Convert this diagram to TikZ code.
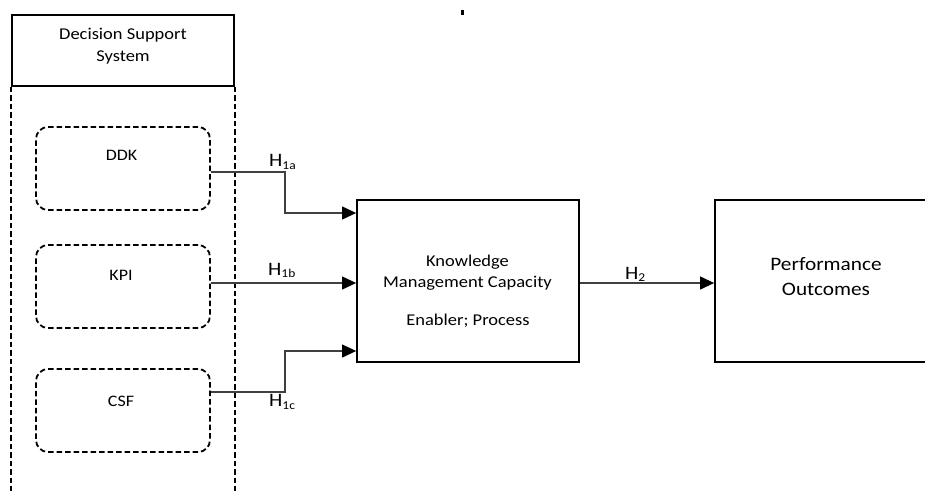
\documentclass[tikz,border=0pt]{standalone}
\usepackage{fontspec}
\setmainfont[FakeStretch=1.12]{Carlito}
\usetikzlibrary{arrows.meta,calc}
\newcommand{\hlab}[1]{H\raisebox{-2.5pt}{\fontsize{12}{12}\selectfont #1}}
\begin{document}
\begin{tikzpicture}[x=1pt,y=-1pt,
  solidbox/.style={draw=black,line width=1.8pt,inner sep=0pt},
  dashbox/.style={draw=black,line width=1.8pt,dash pattern=on 5.5pt off 3pt,rounded corners=12pt,inner sep=0pt,minimum width=174pt,minimum height=83pt},
  dashline/.style={draw=black,line width=1.8pt,dash pattern=on 5.5pt off 3pt},
  conn/.style={draw=black!75,line width=1.1pt,-{Triangle[length=14pt,width=13pt,color=black]}},
  txt/.style={anchor=base,inner sep=0pt,text=black},
  smalltxt/.style={txt,font=\fontsize{16}{18}\selectfont},
  midtxt/.style={txt,font=\fontsize{16.5}{21}\selectfont},
  bigtxt/.style={txt,font=\fontsize{19}{25}\selectfont},
  hlabel/.style={anchor=base west,inner sep=0pt,font=\fontsize{19}{20}\selectfont}
]
\useasboundingbox (0,0) rectangle (925,490);
% Decision support system
\node[solidbox,minimum width=222pt,minimum height=71pt] (dss) at (123,50.5) {};
\node[midtxt] (dss1) at (123,39.5) {Decision Support};
\node[midtxt] (dss2) at (123,61.7) {System};
\coordinate (bottom) at (0,496);
\draw[dashline] (dss.south west) -- (dss.south west |- bottom);
\draw[dashline] (dss.south east) -- (dss.south east |- bottom);
% dashed inner boxes
\node[dashbox] (ddk) at (123,168.5) {};
\node[dashbox] (kpi) at (123,286.5) {};
\node[dashbox] (csf) at (123,410.5) {};
\node[smalltxt] (ddkt) at (121.5,160.7) {DDK};
\node[smalltxt] (kpit) at (121,280.7) {KPI};
\node[smalltxt] (csft) at (121,406) {CSF};
% KMC
\node[solidbox,minimum width=222pt,minimum height=162pt] (kmc) at (468,281) {};
\node[midtxt] (kmc1) at (467.5,266) {Knowledge};
\node[midtxt] (kmc2) at (467.5,287) {Management Capacity};
\node[midtxt] (kmc3) at (468,325) {Enabler; Process};
% Performance
\node[solidbox,minimum width=232pt,minimum height=162pt] (perf) at (831,281) {};
\node[bigtxt] (perf1) at (826,270) {Performance};
\node[bigtxt] (perf2) at (826,295) {Outcomes};
% connectors
\coordinate (ja) at (285,213);
\coordinate (jc) at (285,351);
\draw[conn] ([yshift=-3.5pt]ddk.east) -| (ja) -- ([yshift=68pt]kmc.west);
\draw[conn] ([yshift=3.5pt]kpi.east) -- ([yshift=3.5pt]kpi.east -| kmc.west);
\draw[conn] ([yshift=18.5pt]csf.east) -| (jc) -- ([yshift=-70pt]kmc.west);
\draw[conn] ([yshift=-2pt]kmc.east) -- ([yshift=-2pt]perf.west);
% labels
\node[hlabel] (h1a) at (269,166.7) {\hlab{1a}};
\node[hlabel] (h1b) at (268,275) {\hlab{1b}};
\node[hlabel] (h1c) at (269,406.7) {\hlab{1c}};
\node[hlabel] (h2) at (625,279) {\hlab{2}};
% stray mark
\fill[black] (461,10) rectangle (463.5,15);
\end{tikzpicture}
\end{document}
